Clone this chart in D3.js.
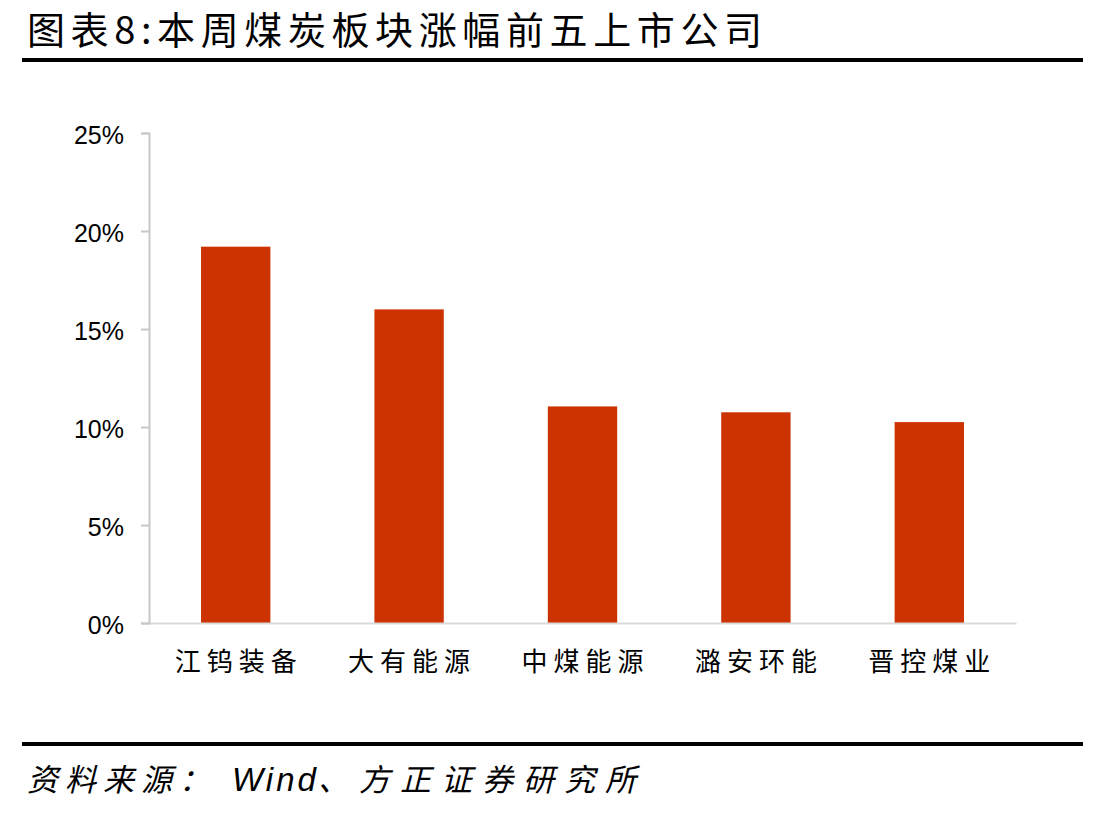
<!DOCTYPE html>
<html>
<head>
<meta charset="utf-8">
<script src="https://cdn.jsdelivr.net/npm/d3@7"></script>
<style>
  body { margin: 0; background: #fff; }
  svg { display: block; }
</style>
</head>
<body>
<div id="chart"></div>
<script>
// data
var companies = ['江钨装备', '大有能源', '中煤能源', '潞安环能', '晋控煤业'];
var gains = [0.192, 0.160, 0.1105, 0.1075, 0.1025];
var yTicks = [0, 0.05, 0.10, 0.15, 0.20, 0.25];

var W = 1098, H = 814;
var cjk = '"Noto Sans CJK SC", sans-serif';

var svg = d3.select('#chart').append('svg')
  .attr('width', W)
  .attr('height', H);

// title + rules
svg.append('text')
  .attr('x', 27).attr('y', 44)
  .attr('font-family', cjk)
  .attr('font-size', 38)
  .attr('textLength', 735)
  .attr('lengthAdjust', 'spacing')
  .style('fill', '#000')
  .text('图表8:本周煤炭板块涨幅前五上市公司');

svg.append('rect').attr('x', 22).attr('y', 58).attr('width', 1061).attr('height', 4).style('fill', '#000');
svg.append('rect').attr('x', 22).attr('y', 742).attr('width', 1061).attr('height', 4).style('fill', '#000');

// source line, split so "Wind" keeps tight spacing
var src = svg.append('text')
  .attr('y', 791)
  .attr('font-family', cjk)
  .attr('font-size', 31)
  .attr('font-style', 'italic')
  .style('fill', '#000');
src.append('tspan').attr('x', 27).attr('letter-spacing', 7).text('资料来源：');
src.append('tspan').attr('x', 232).attr('letter-spacing', 3)
  .attr('font-family', '"Liberation Sans", Arial, sans-serif').attr('font-size', 33)
  .text('Wind');
src.append('tspan').attr('x', 318).attr('letter-spacing', 10).text('、方正证券研究所');

// scales
var x = d3.scaleBand()
  .domain(companies)
  .range([149, 1016])
  .paddingInner(0.6)
  .paddingOuter(0.3);

var y = d3.scaleLinear()
  .domain([0, 0.25])
  .range([623, 133]);

// bars
svg.selectAll('.bar')
  .data(gains)
  .enter()
  .append('rect')
    .attr('class', 'bar')
    .attr('x', function(d, i) { return x(companies[i]); })
    .attr('y', function(d) { return y(d); })
    .attr('width', x.bandwidth())
    .attr('height', function(d) { return y(0) - y(d); })
    .style('fill', '#CC3300');

// y axis
var yAxis = svg.append('g')
  .attr('transform', 'translate(149,0)')
  .call(d3.axisLeft(y).tickValues(yTicks).tickSize(8).tickSizeOuter(8).tickPadding(17)
    .tickFormat(function(d) { return Math.round(d * 100) + '%'; }));
yAxis.select('.domain').style('stroke', '#c8c8c8').style('stroke-width', 2);
yAxis.selectAll('.tick line').style('stroke', '#c8c8c8').style('stroke-width', 2);
yAxis.selectAll('.tick text')
  .attr('font-family', '"Liberation Sans", Arial, sans-serif')
  .attr('font-size', 25)
  .attr('dy', '0.42em')
  .style('fill', '#000');

// x axis
var xAxis = svg.append('g')
  .attr('transform', 'translate(0,623)')
  .call(d3.axisBottom(x).tickSize(0).tickSizeOuter(0).tickPadding(30));
xAxis.select('.domain').style('stroke', '#d9d9d9').style('stroke-width', 2);
xAxis.selectAll('.tick text')
  .attr('font-family', cjk)
  .attr('font-size', 26)
  .attr('letter-spacing', 6)
  .attr('dx', 3)
  .style('fill', '#000');
// y axis on top of x axis line
yAxis.raise();
</script>
</body>
</html>
